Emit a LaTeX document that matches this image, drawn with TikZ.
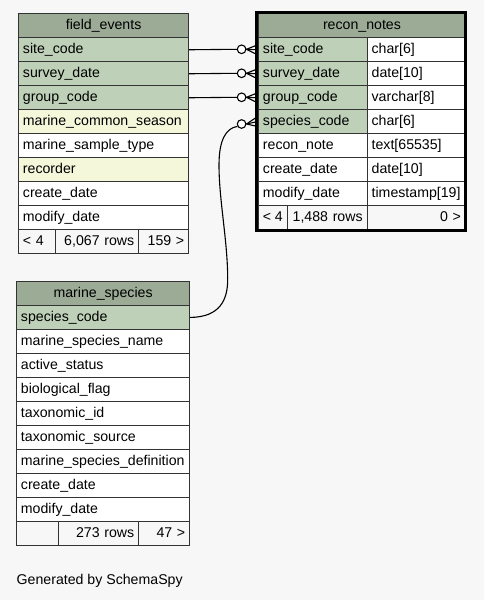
\documentclass[tikz,border=0pt]{standalone}
\usepackage{fontspec}
\setmainfont{Liberation Sans}
\definecolor{bgc}{HTML}{F7F7F7}
\definecolor{hdr}{HTML}{9BAB96}
\definecolor{keyc}{HTML}{BED1B8}
\definecolor{idx}{HTML}{F4F7DA}
\begin{document}
\begin{tikzpicture}[x=1pt,y=-1pt,
  cell/.style={draw=black!80, line width=0.9pt, anchor=north west, minimum height=24pt,
    inner xsep=4.5pt, inner ysep=0pt, text height=10.3pt, text depth=3.2pt,
    font=\fontsize{14.15}{17}\selectfont},
  conn/.style={draw=black, line width=1.1pt},
  circ/.style={circle, draw=black, line width=1.1pt, fill=white, minimum size=8.6pt, inner sep=0pt},
  gen/.style={anchor=base west, inner sep=0pt, font=\fontsize{14.15}{17}\selectfont}]
\newcommand\trow[7]{\pgfmathsetmacro\tw{#4-9}\node[cell, fill=#5, minimum width=#4, text width=\tw pt, align=#6] (#1) at (#2,#3) {#7};}
\fill[bgc] (0,0) rectangle (484,600);
\useasboundingbox (0,0) rectangle (484,600);
% field_events
\trow{fe-h}{18}{13.3}{170.3}{hdr}{center}{field\_events}
\trow{fe-1}{18}{37.3}{170.3}{keyc}{left}{site\_code}
\trow{fe-2}{18}{61.3}{170.3}{keyc}{left}{survey\_date}
\trow{fe-3}{18}{85.3}{170.3}{keyc}{left}{group\_code}
\trow{fe-4}{18}{109.3}{170.3}{idx}{left}{marine\_common\_season}
\trow{fe-5}{18}{133.3}{170.3}{white}{left}{marine\_sample\_type}
\trow{fe-6}{18}{157.3}{170.3}{idx}{left}{recorder}
\trow{fe-7}{18}{181.3}{170.3}{white}{left}{create\_date}
\trow{fe-8}{18}{205.3}{170.3}{white}{left}{modify\_date}
\trow{fe-f1}{18}{229.3}{37}{bgc}{left}{<~4}
\trow{fe-f2}{55}{229.3}{83.3}{bgc}{right}{6,067 rows}
\trow{fe-f3}{138.3}{229.3}{50}{bgc}{right}{159~>}
% recon_notes
\trow{rn-h}{258}{13.3}{207}{hdr}{center}{recon\_notes}
\trow{rn-1}{258}{37.3}{108.7}{keyc}{left}{site\_code}
\trow{rn-1t}{366.7}{37.3}{98.3}{white}{left}{char[6]}
\trow{rn-2}{258}{61.3}{108.7}{keyc}{left}{survey\_date}
\trow{rn-2t}{366.7}{61.3}{98.3}{white}{left}{date[10]}
\trow{rn-3}{258}{85.3}{108.7}{keyc}{left}{group\_code}
\trow{rn-3t}{366.7}{85.3}{98.3}{white}{left}{varchar[8]}
\trow{rn-4}{258}{109.3}{108.7}{keyc}{left}{species\_code}
\trow{rn-4t}{366.7}{109.3}{98.3}{white}{left}{char[6]}
\trow{rn-5}{258}{133.3}{108.7}{white}{left}{recon\_note}
\trow{rn-5t}{366.7}{133.3}{98.3}{white}{left}{text[65535]}
\trow{rn-6}{258}{157.3}{108.7}{white}{left}{create\_date}
\trow{rn-6t}{366.7}{157.3}{98.3}{white}{left}{date[10]}
\trow{rn-7}{258}{181.3}{108.7}{white}{left}{modify\_date}
\trow{rn-7t}{366.7}{181.3}{98.3}{white}{left}{timestamp[19]}
\node[cell, fill=bgc, minimum width=28.7, inner xsep=3pt, align=left] (rn-f1) at (258,205.3) {<~4};
\trow{rn-f2}{286.7}{205.3}{80}{bgc}{right}{1,488~rows}
\trow{rn-f3}{366.7}{205.3}{98.3}{bgc}{right}{0~>}
\draw[black, line width=2.7pt] (256.7,12.35) rectangle (465.35,230.35);
% marine_species
\trow{ms-h}{16}{281}{173.3}{hdr}{center}{marine\_species}
\trow{ms-1}{16}{305}{173.3}{keyc}{left}{species\_code}
\trow{ms-2}{16}{329}{173.3}{white}{left}{marine\_species\_name}
\trow{ms-3}{16}{353}{173.3}{white}{left}{active\_status}
\trow{ms-4}{16}{377}{173.3}{white}{left}{biological\_flag}
\trow{ms-5}{16}{401}{173.3}{white}{left}{taxonomic\_id}
\trow{ms-6}{16}{425}{173.3}{white}{left}{taxonomic\_source}
\trow{ms-7}{16}{449}{173.3}{white}{left}{marine\_species\_definition}
\trow{ms-8}{16}{473}{173.3}{white}{left}{create\_date}
\trow{ms-9}{16}{497}{173.3}{white}{left}{modify\_date}
\trow{ms-f1}{16}{521}{42.3}{bgc}{left}{}
\trow{ms-f2}{58.3}{521}{80}{bgc}{right}{273 rows}
\trow{ms-f3}{138.3}{521}{51}{bgc}{right}{47~>}
% connectors
\node[circ] (c1) at (241.6,49.3) {};
\node[circ] (c2) at (241.6,73.3) {};
\node[circ] (c3) at (241.6,97.3) {};
\node[circ] (c4) at (241.6,124) {};
\foreach \s/\c/\r in {fe-1/c1/rn-1, fe-2/c2/rn-2, fe-3/c3/rn-3} {
  \draw[conn] (\s.east) -- (\c.west);
  \draw[conn] (\c.east) -- ([xshift=-1.5pt]\r.west);
  \draw[conn] (\c.east) -- ([xshift=-1.5pt,yshift=4.5pt]\r.west);
  \draw[conn] (\c.east) -- ([xshift=-1.5pt,yshift=-4.5pt]\r.west);
}
\draw[conn] (ms-1.east) .. controls (220,317) and (228,300) .. (227.7,278)
  .. controls (227.5,240) and (219,200) .. (219,165)
  .. controls (219,140) and (226,128) .. (c4.210);
\draw[conn] (c4.east) -- ([xshift=-1.5pt]rn-4.west);
\draw[conn] (c4.east) -- ([xshift=-1.5pt,yshift=4.5pt]rn-4.west);
\draw[conn] (c4.east) -- ([xshift=-1.5pt,yshift=-4.5pt]rn-4.west);
\node[gen] (gen) at (16.5,584.5) {Generated by SchemaSpy};
\end{tikzpicture}
\end{document}
